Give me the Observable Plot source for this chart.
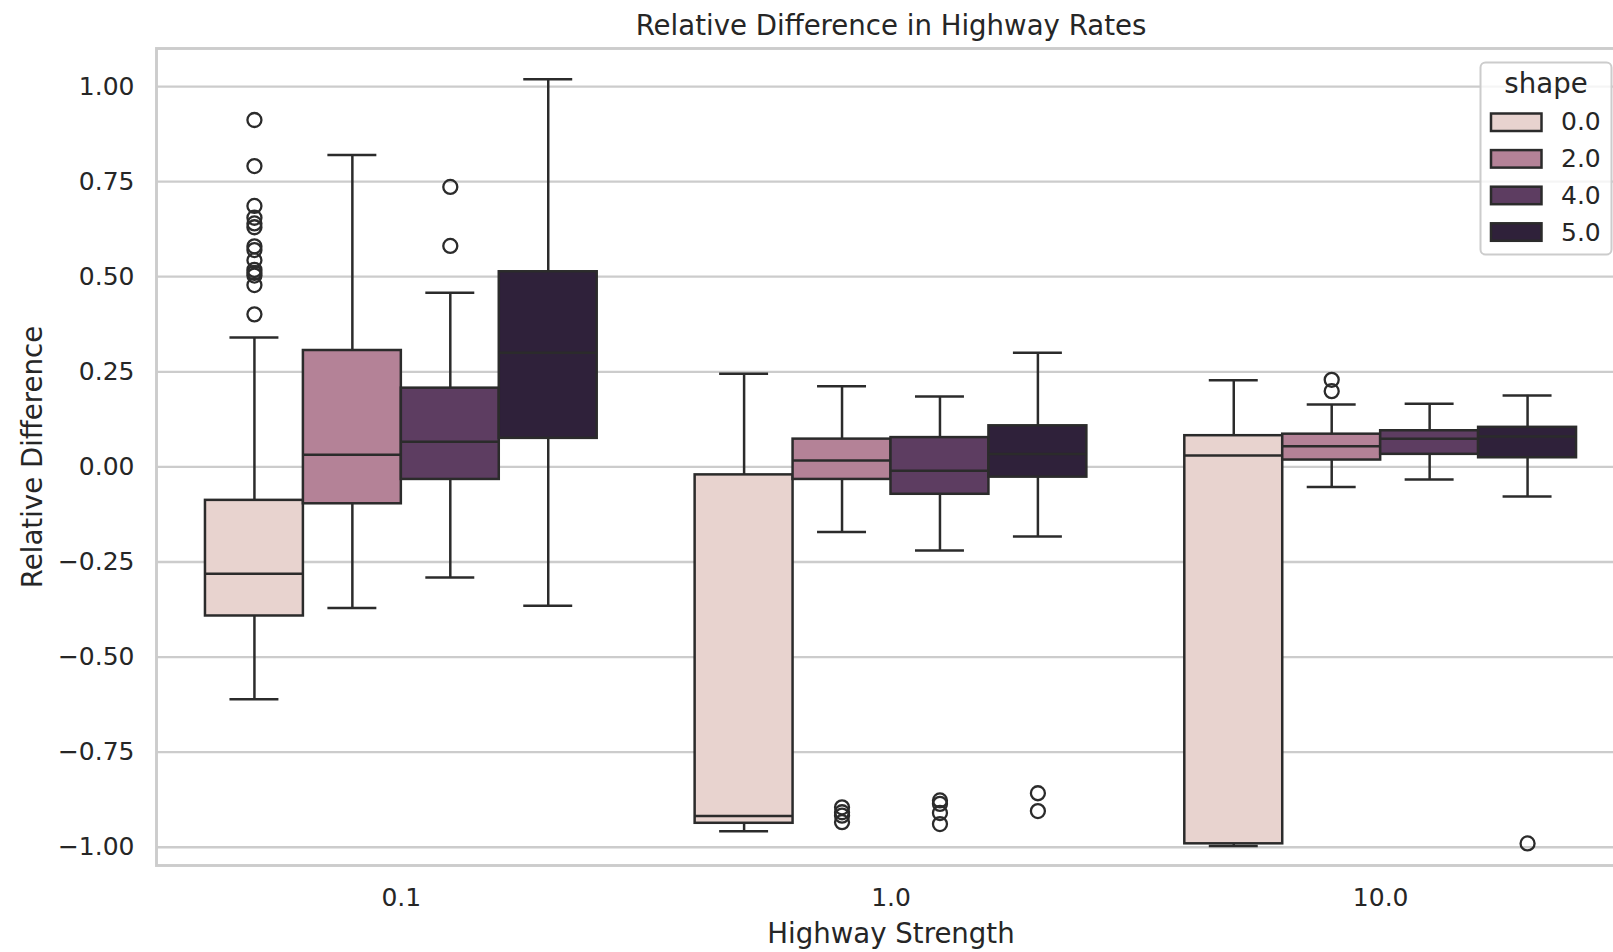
<!DOCTYPE html>
<html>
<head>
<meta charset="utf-8">
<script src="https://cdn.jsdelivr.net/npm/d3@7"></script>
<script src="https://cdn.jsdelivr.net/npm/@observablehq/plot@0.6"></script>
<style>
  html, body { margin: 0; padding: 0; background: white; overflow: hidden; }
  #wrap { position: relative; width: 1613px; height: 952px; overflow: hidden; }
  #legend { position: absolute; left: 0; top: 0; pointer-events: none; }
</style>
</head>
<body>
<div id="wrap"></div>
<script>
// ---- data ----
const strengths = ["0.1", "1.0", "10.0"];
const shapes = ["0.0", "2.0", "4.0", "5.0"];
const palette = ["#e8d3cf", "#b48297", "#5d3d61", "#2f213a"];
const yTicks = [-1, -0.75, -0.5, -0.25, 0, 0.25, 0.5, 0.75, 1];

// order: strength 0.1 (shapes 0,2,4,5), 1.0 (...), 10.0 (...)
const whiskerLow  = [-0.611, -0.371, -0.291, -0.365,  -0.958, -0.171, -0.220, -0.183,  -0.997, -0.053, -0.033, -0.078];
const q1          = [-0.392, -0.097, -0.033,  0.075,  -0.937, -0.033, -0.072, -0.027,  -0.991,  0.018,  0.033,  0.024];
const median      = [-0.281,  0.032,  0.066,  0.300,  -0.918,  0.017, -0.010,  0.034,   0.030,  0.054,  0.074,  0.080];
const q3          = [-0.088,  0.306,  0.207,  0.513,  -0.021,  0.073,  0.077,  0.108,   0.082,  0.086,  0.095,  0.104];
const whiskerHigh = [ 0.340,  0.820,  0.458,  1.019,   0.245,  0.212,  0.185,  0.300,   0.228,  0.164,  0.166,  0.188];
const outliers = [
  [0.912, 0.791, 0.686, 0.655, 0.640, 0.630, 0.580, 0.570, 0.543, 0.518, 0.510, 0.503, 0.478, 0.401],
  [],
  [0.736, 0.581],
  [],
  [],
  [-0.895, -0.908, -0.917, -0.934],
  [-0.877, -0.886, -0.910, -0.939],
  [-0.858, -0.905],
  [],
  [0.229, 0.199],
  [],
  [-0.990]
];

// ---- derived tables ----
const groupWidth = 0.8, nHue = shapes.length, boxW = groupWidth / nHue;
const boxes = [];
const fliers = [];
strengths.forEach((s, i) => {
  shapes.forEach((h, j) => {
    const k = i * nHue + j;
    const xl = i - groupWidth / 2 + j * boxW;
    const b = {
      strength: s, shape: h,
      xl, xr: xl + boxW, cx: xl + boxW / 2,
      cl: xl + boxW / 4, cr: xl + boxW * 3 / 4,
      wl: whiskerLow[k], q1: q1[k], med: median[k], q3: q3[k], wh: whiskerHigh[k]
    };
    boxes.push(b);
    outliers[k].forEach(v => fliers.push({cx: b.cx, v}));
  });
});

const ink = "#2b2b2b";
const textColor = "#262626";
const lw = 2.5;

const plot = Plot.plot({
  width: 1625,
  height: 952,
  marginLeft: 156,
  marginRight: 0,
  marginTop: 48,
  marginBottom: 87,
  style: {fontFamily: "DejaVu Sans", fontSize: "25px", color: textColor, background: "white", maxWidth: "none"},
  x: {domain: [-0.5, 2.5], label: null},
  y: {domain: [-1.048, 1.100], label: null},
  color: {type: "ordinal", domain: shapes, range: palette},
  marks: [
    Plot.gridY(yTicks, {stroke: "#cccccc", strokeOpacity: 1, strokeWidth: 2.3}),
    Plot.ruleX(boxes, {x: "cx", y1: "q3", y2: "wh", stroke: ink, strokeWidth: lw}),
    Plot.ruleX(boxes, {x: "cx", y1: "q1", y2: "wl", stroke: ink, strokeWidth: lw}),
    Plot.ruleY(boxes, {y: "wh", x1: "cl", x2: "cr", stroke: ink, strokeWidth: lw}),
    Plot.ruleY(boxes, {y: "wl", x1: "cl", x2: "cr", stroke: ink, strokeWidth: lw}),
    Plot.rect(boxes, {x1: "xl", x2: "xr", y1: "q1", y2: "q3", fill: "shape", stroke: ink, strokeWidth: lw}),
    Plot.ruleY(boxes, {y: "med", x1: "xl", x2: "xr", stroke: ink, strokeWidth: lw}),
    Plot.dot(fliers, {x: "cx", y: "v", r: 7, stroke: ink, strokeWidth: 2.3, fill: "none"}),
    Plot.frame({stroke: "#cccccc", strokeWidth: 2.9}),
    Plot.axisY({ticks: yTicks, tickSize: 0, tickPadding: 22, tickFormat: d3.format(".2f"), label: null, fontSize: 25, fill: textColor}),
    Plot.axisX({ticks: [0, 1, 2], tickFormat: i => strengths[i], tickSize: 0, tickPadding: 23, label: null, fontSize: 25, fill: textColor}),
    Plot.text(["Relative Difference in Highway Rates"], {frameAnchor: "top", dy: -13.5, lineAnchor: "bottom", textAnchor: "middle", fontSize: 27.6, fill: textColor}),
    Plot.text(["Highway Strength"], {frameAnchor: "bottom", dy: 77, lineAnchor: "bottom", textAnchor: "middle", fontSize: 27.6, fill: textColor}),
    Plot.text(["Relative Difference"], {frameAnchor: "left", rotate: -90, dx: -114.5, lineAnchor: "bottom", textAnchor: "middle", fontSize: 27.6, fill: textColor})
  ]
});

const wrap = document.getElementById("wrap");
wrap.appendChild(plot);

// ---- legend overlay ----
const lg = d3.select(wrap).append("svg")
  .attr("id", "legend")
  .attr("width", 1613).attr("height", 952)
  .style("font-family", "DejaVu Sans");
lg.append("rect")
  .attr("x", 1480.5).attr("y", 62.5).attr("width", 131).attr("height", 192).attr("rx", 5)
  .attr("fill", "white").attr("fill-opacity", 0.8)
  .attr("stroke", "#cccccc").attr("stroke-width", 2);
lg.append("text")
  .attr("x", 1546).attr("y", 92.5).attr("text-anchor", "middle")
  .attr("font-size", 27.6).attr("fill", textColor).text("shape");
shapes.forEach((s, i) => {
  lg.append("rect")
    .attr("x", 1491).attr("y", 113.5 + 36.6 * i).attr("width", 50.5).attr("height", 17.5)
    .attr("fill", palette[i]).attr("stroke", ink).attr("stroke-width", lw);
  lg.append("text")
    .attr("x", 1561).attr("y", 130.3 + 36.8 * i)
    .attr("font-size", 25).attr("fill", textColor).text(s);
});
</script>
</body>
</html>
